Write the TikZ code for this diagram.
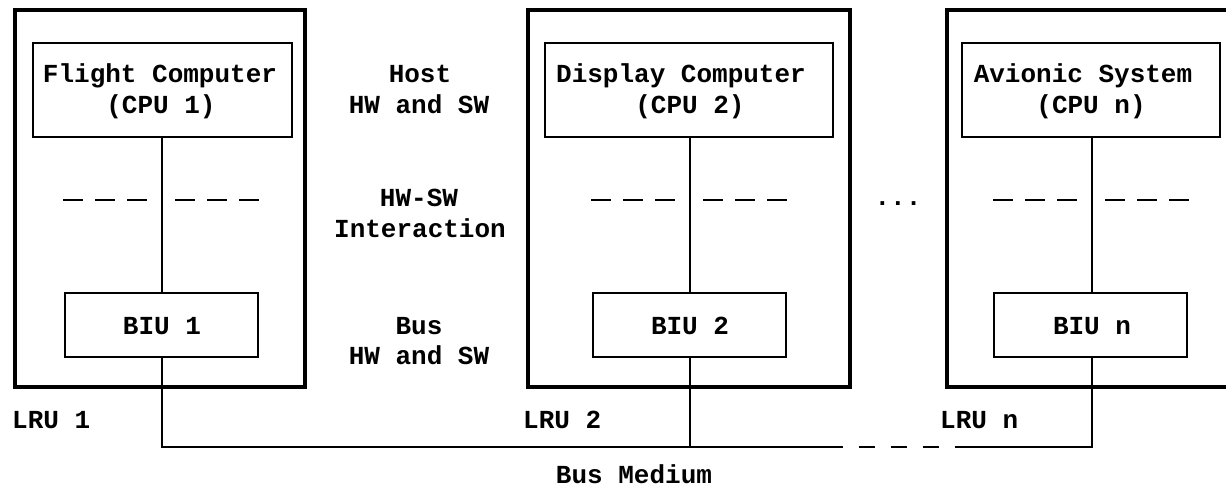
\documentclass[tikz,border=0pt]{standalone}
\usepackage{fontspec}
\setmonofont{Liberation Mono}
\begin{document}
\begin{tikzpicture}[x=1pt,y=-1pt,
  lru/.style={draw, line width=4.5pt, rectangle, inner sep=0pt},
  box/.style={draw, line width=1.8pt, rectangle, inner sep=0pt},
  txt/.style={font=\ttfamily\bfseries\fontsize{26}{30}\selectfont, anchor=base, inner sep=0pt},
  wire/.style={line width=1.8pt},
  dashrow/.style={line width=1.8pt, dash pattern=on 20pt off 12pt},
  busdash/.style={line width=1.8pt, dash pattern=on 16pt off 16pt, dash phase=16pt}]
\clip (0,0) rectangle (1226,489);
% LRU frames
\node[lru, minimum width=290pt, minimum height=377pt] (lru1) at (160,198.5) {};
\node[lru, minimum width=322pt, minimum height=377pt] (lru2) at (689,198.5) {};
\node[lru, minimum width=303pt, minimum height=377pt] (lrun) at (1098.5,198.5) {};
% CPU boxes
\node[box, minimum width=259pt, minimum height=94pt] (cpu1) at (162.5,90) {};
\node[box, minimum width=288pt, minimum height=94pt] (cpu2) at (689,90) {};
\node[box, minimum width=258pt, minimum height=94pt] (cpun) at (1091,90) {};
% BIU boxes
\node[box, minimum width=193pt, minimum height=64pt] (biu1) at (161.5,325) {};
\node[box, minimum width=193pt, minimum height=64pt] (biu2) at (689.5,325) {};
\node[box, minimum width=193pt, minimum height=64pt] (biun) at (1090.5,325) {};
% texts in CPU boxes
\node[txt] (t1a) at (160,83) {Flight Computer};
\node[txt] (t1b) at (161,114) {(CPU 1)};
\node[txt] (t2a) at (681,83) {Display Computer};
\node[txt] (t2b) at (690,114) {(CPU 2)};
\node[txt] (tna) at (1083,83) {Avionic System};
\node[txt] (tnb) at (1091,114) {(CPU n)};
% texts in BIU boxes
\node[txt] (b1t) at (162,334) {BIU 1};
\node[txt] (b2t) at (690,334) {BIU 2};
\node[txt] (bnt) at (1092,334) {BIU n};
% middle column
\node[txt] (m1) at (420,83) {Host};
\node[txt] (m2) at (419,114) {HW and SW};
\node[txt] (m3) at (419,207) {HW-SW};
\node[txt] (m4) at (420,237) {Interaction};
\node[txt] (m5) at (419,334) {Bus};
\node[txt] (m6) at (419,364) {HW and SW};
% LRU labels
\node[txt, anchor=base west] (l1) at (12,428) {LRU 1};
\node[txt, anchor=base west] (l2) at (523,428) {LRU 2};
\node[txt, anchor=base west] (ln) at (940,428) {LRU n};
\node[txt] (dots) at (898,206) {...};
\node[txt] (bm) at (634,483) {Bus Medium};
% CPU-BIU links
\draw[wire] (cpu1.south -| biu1.north) ++(0.5,0) coordinate (v1) -- (v1 |- biu1.north);
\draw[wire] (cpu2.south) ++(1,0) coordinate (v2) -- (v2 |- biu2.north);
\draw[wire] (cpun.south) ++(1,0) coordinate (vn) -- (vn |- biun.north);
% HW-SW dashed rows
\foreach \v in {v1,v2,vn}{
  \draw[dashrow] ([xshift=-99pt]\v |- 0,200) -- ([xshift=-15pt]\v |- 0,200);
  \draw[dashrow] ([xshift=13pt]\v |- 0,200) -- ([xshift=97pt]\v |- 0,200);
}
% bus
\coordinate (d1) at (843,447);
\coordinate (d2) at (955,447);
\draw[wire] (biu1.south) ++(0.5,0) |- (d1);
\draw[wire] (biu2.south) ++(0.5,0) -- ++(0,90);
\draw[busdash] (d1) -- (d2);
\draw[wire] (d2) -| ([xshift=1.5pt]biun.south);
\end{tikzpicture}
\end{document}
